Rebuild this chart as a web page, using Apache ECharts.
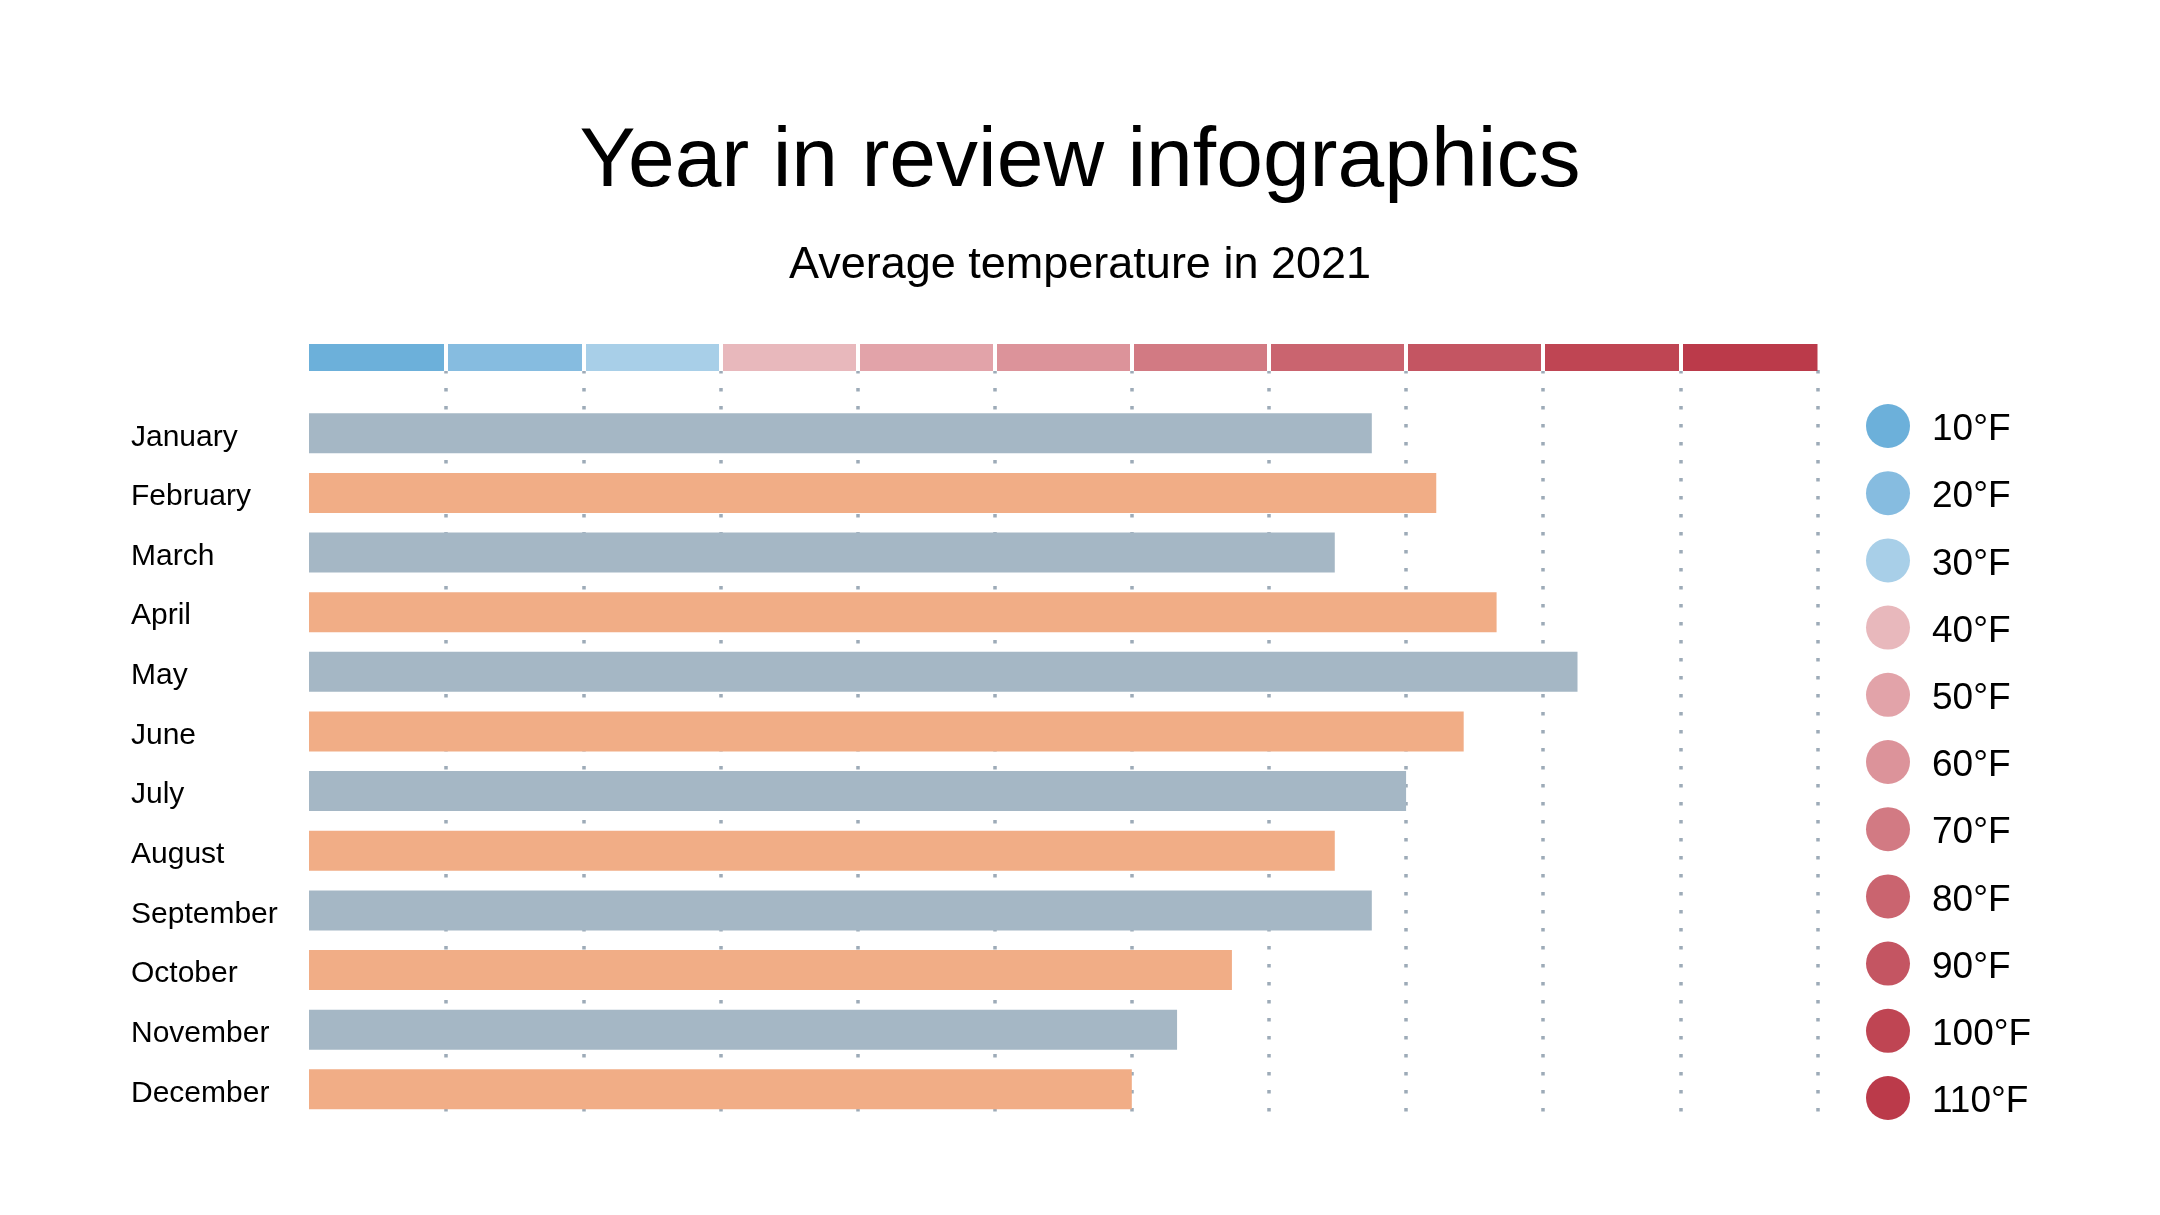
<!DOCTYPE html>
<html>
<head>
<meta charset="utf-8">
<script src="https://cdn.jsdelivr.net/npm/echarts@6/dist/echarts.min.js"></script>
<style>
html,body{margin:0;padding:0;background:#fff;}
#chart{width:2160px;height:1215px;}
</style>
</head>
<body>
<div id="chart"></div>
<script>
const titleText = 'Year in review infographics';
const subtitleText = 'Average temperature in 2021';
const months = ['January','February','March','April','May','June','July','August','September','October','November','December'];
const temps = [77.5, 82.2, 74.8, 86.6, 92.5, 84.2, 80, 74.8, 77.5, 67.3, 63.3, 60];
const barColors = ['#a5b7c5', '#f1ad86'];
const scaleNames = ['10°F','20°F','30°F','40°F','50°F','60°F','70°F','80°F','90°F','100°F','110°F'];
const scaleSteps = [10,10,10,10,10,10,10,10,10,10,10];
const scaleColors = ['#6cb0da','#86bce0','#a8cfe8','#e8b8bc','#e2a3a9','#dc939a','#d27a83','#ca646f','#c45562','#bf4553','#bb3a4a'];
const axisMin = 0, axisMax = 110, axisStep = 10;

const FONT = "'Liberation Sans', Arial, sans-serif";
const L = 309, W = 1508.5;

const stripSeries = scaleNames.map((n, i) => ({
  name: n, type: 'bar', stack: 'scale', xAxisIndex: 0, yAxisIndex: 0,
  data: [scaleSteps[i]], barWidth: 27, itemStyle: { color: scaleColors[i] },
  silent: true
}));

const chart = echarts.init(document.getElementById('chart'), null, { renderer: 'canvas' });
chart.setOption({
  backgroundColor: '#fff',
  animation: false,
  color: scaleColors,
  title: [
    { text: titleText, left: 'center', top: 121, padding: 0,
      textStyle: { fontFamily: FONT, fontSize: 84, fontWeight: 'normal', color: '#000' } },
    { text: subtitleText, left: 'center', top: 243, padding: 0,
      textStyle: { fontFamily: FONT, fontSize: 45, fontWeight: 'normal', color: '#000' } }
  ],
  legend: {
    data: scaleNames, orient: 'vertical', left: 1866, top: 404,
    icon: 'circle', itemWidth: 44, itemHeight: 44, itemGap: 22.7,
    selectedMode: false, padding: 0,
    formatter: '{t|{name}}',
    textStyle: { fontFamily: FONT, fontSize: 37, color: '#000',
      rich: { t: { fontFamily: FONT, fontSize: 37, color: '#000', padding: [8,0,0,17] } } }
  },
  grid: [
    { left: L, width: W, top: 344, height: 27 },
    { left: L, width: W, top: 403.5, height: 715.6 },
    { left: L, width: W, top: 370, height: 742 }
  ],
  xAxis: [
    { type: 'value', gridIndex: 0, min: axisMin, max: axisMax, interval: axisStep, z: 5,
      axisLine: {show:false}, axisTick: {show:false}, axisLabel: {show:false},
      splitLine: { show: true, showMinLine: false, showMaxLine: false,
        lineStyle: { color: '#fff', width: 4, type: 'solid' } } },
    { type: 'value', gridIndex: 1, min: axisMin, max: axisMax, interval: axisStep,
      axisLine: {show:false}, axisTick: {show:false}, axisLabel: {show:false},
      splitLine: { show: false } },
    { type: 'value', gridIndex: 2, min: axisMin, max: axisMax, interval: axisStep,
      axisLine: {show:false}, axisTick: {show:false}, axisLabel: {show:false},
      splitLine: { show: true, showMinLine: false,
        lineStyle: { color: '#9dabb8', width: 3.5, type: [3.5, 14.5] } } }
  ],
  yAxis: [
    { type: 'category', gridIndex: 0, data: [''], show: false },
    { type: 'category', gridIndex: 1, data: months, inverse: true,
      axisLine: {show:false}, axisTick: {show:false}, splitLine: {show:false},
      axisLabel: { align: 'left', margin: 178, fontFamily: FONT, fontSize: 30, color: '#000',
        formatter: '{m|{value}}',
        rich: { m: { fontFamily: FONT, fontSize: 30, color: '#000', padding: [8,0,0,0] } } } },
    { type: 'category', gridIndex: 2, data: [''], show: false }
  ],
  series: stripSeries.concat([
    { name: 'Average temperature', type: 'bar', xAxisIndex: 1, yAxisIndex: 1,
      data: temps, barWidth: 40, z: 3,
      itemStyle: { color: p => barColors[p.dataIndex % 2] } }
  ])
});
</script>
</body>
</html>
